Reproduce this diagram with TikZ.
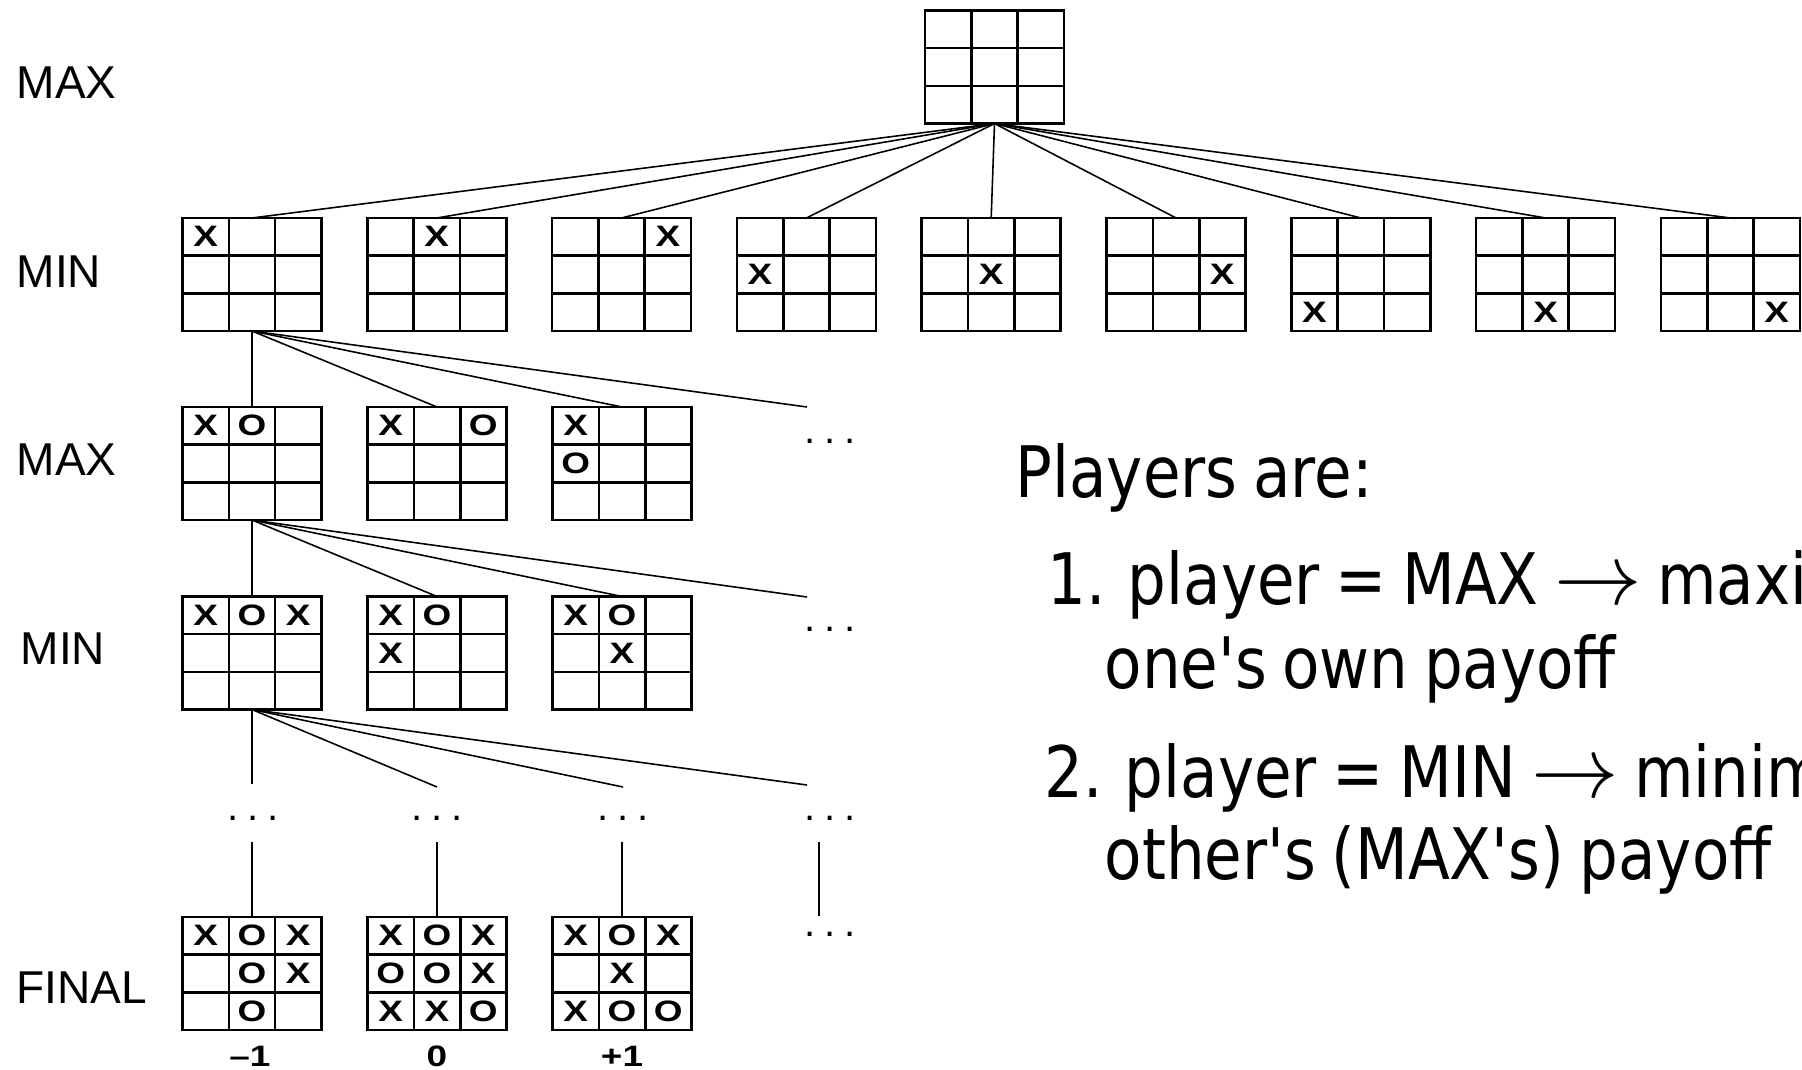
\documentclass[tikz,border=0pt]{standalone}
\usepackage{fontspec}
\setmainfont{Liberation Sans}
\newfontfamily\notefont[FakeStretch=0.86, WordSpace=0.8]{DejaVu Sans}
\newfontfamily\piecefont[FakeStretch=1.25]{Liberation Sans Bold}
\usepackage{tikz}
\usetikzlibrary{calc}

\tikzset{
  board/.style={draw, line width=0.75pt, inner sep=0pt, outer sep=0pt,
    minimum width=1.39cm, minimum height=1.13cm},
  boardline/.style={line width=0.75pt},
  link/.style={line width=0.45pt},
  piece/.style={font=\piecefont\fontsize{8.4}{9}\selectfont, inner sep=0pt},
  rowlabel/.style={font=\fontsize{13.1}{15}\selectfont, anchor=base west, inner sep=0pt},
  score/.style={font=\piecefont\fontsize{8.4}{9}\selectfont, anchor=base, inner sep=0pt},
  note/.style={font=\notefont\fontsize{20.2}{24}\selectfont, anchor=base west, inner sep=0pt},
  etc/.style={font=\fontsize{11.4}{12}\selectfont, inner sep=0pt}
}

% empty 3x3 board as a node
\newcommand{\board}[3]{%
  \node[board] (#1) at (#2,#3) {};
  \foreach \f in {1,2} {
    \draw[boardline] ($(#1.north west)!\f/3!(#1.north east)$) -- ($(#1.south west)!\f/3!(#1.south east)$);
    \draw[boardline] ($(#1.north west)!\f/3!(#1.south west)$) -- ($(#1.north east)!\f/3!(#1.south east)$);
  }
}
% marks: symbol/column/row
\newcommand{\pieces}[2]{%
  \foreach \pc/\col/\row in {#2}
    \node[piece] at ($(#1.north west)+({(\col+0.5)*46.33},{(\row+0.5)*37.67})$) {\pc};
}
\newcommand{\moredots}{.\hspace{2.4pt}.\hspace{2.4pt}.}
\newcommand{\yields}{\scalebox{1.2}{$\rightarrow$}}

\begin{document}
\begin{tikzpicture}[x=0.01cm, y=-0.01cm]
  \clip (0,0) rectangle (1802,1069);

  % level labels
  \node[rowlabel] (l1) at (16,98) {MAX};
  \node[rowlabel] (l2) at (16,287) {MIN};
  \node[rowlabel] (l3) at (16,475) {MAX};
  \node[rowlabel] (l4) at (20,664) {MIN};
  \node[rowlabel] (l5) at (16,1003) {FINAL};

  % root and first moves
  \board{root}{994.5}{67}
  \foreach \k in {1,...,9} {
    \pgfmathsetmacro\xx{252+184.8*(\k-1)}
    \pgfmathtruncatemacro\cc{mod(\k-1,3)}
    \pgfmathtruncatemacro\rr{div(\k-1,3)}
    \board{m\k}{\xx}{274.5}
    \pieces{m\k}{X/\cc/\rr}
    \draw[link] (root.south) -- (m\k.north);
  }

  % second moves
  \board{a1}{252}{463.5}
  \board{a2}{437}{463.5}
  \board{a3}{622}{463.5}
  \pieces{a1}{X/0/0, O/1/0}
  \pieces{a2}{X/0/0, O/2/0}
  \pieces{a3}{X/0/0, O/0/1}
  \coordinate (d1) at (807,407);
  \node[etc] (q1) at (830,441) {\moredots};
  \foreach \t in {a1,a2,a3,d1}
    \draw[link] (m1.south) -- (\t.north);

  % third moves
  \board{b1}{252}{653}
  \board{b2}{437}{653}
  \board{b3}{622}{653}
  \pieces{b1}{X/0/0, O/1/0, X/2/0}
  \pieces{b2}{X/0/0, O/1/0, X/0/1}
  \pieces{b3}{X/0/0, O/1/0, X/1/1}
  \coordinate (d2) at (807,597);
  \node[etc] (q2) at (830,629) {\moredots};
  \foreach \t in {b1,b2,b3,d2}
    \draw[link] (a1.south) -- (\t.north);

  % further moves
  \coordinate (e1) at (252,784);
  \coordinate (e2) at (437,787);
  \coordinate (e3) at (623,787);
  \coordinate (e4) at (807,785);
  \foreach \t in {e1,e2,e3,e4}
    \draw[link] (b1.south) -- (\t);
  \node[etc] (p1) at (253,818) {\moredots};
  \node[etc] (p2) at (437,818) {\moredots};
  \node[etc] (p3) at (623,818) {\moredots};
  \node[etc] (q3) at (830,818) {\moredots};

  % final positions
  \board{z1}{252}{973.5}
  \board{z2}{437}{973.5}
  \board{z3}{622}{973.5}
  \pieces{z1}{X/0/0, O/1/0, X/2/0, O/1/1, X/2/1, O/1/2}
  \pieces{z2}{X/0/0, O/1/0, X/2/0, O/0/1, O/1/1, X/2/1, X/0/2, X/1/2, O/2/2}
  \pieces{z3}{X/0/0, O/1/0, X/2/0, X/1/1, X/0/2, O/1/2, O/2/2}
  \coordinate (f1) at (252,842);
  \coordinate (f2) at (437,842);
  \coordinate (f3) at (622,842);
  \coordinate (f4) at (819,842);
  \coordinate (g4) at (819,916);
  \draw[link] (f1) -- (z1.north);
  \draw[link] (f2) -- (z2.north);
  \draw[link] (f3) -- (z3.north);
  \draw[link] (f4) -- (g4);
  \node[etc] (q4) at (830,934) {\moredots};

  \node[score] (s1) at ($(z1.south)+(-2,36)$) {\textendash1};
  \node[score] (s2) at ($(z2.south)+(0,36)$) {0};
  \node[score] (s3) at ($(z3.south)+(0,36)$) {+1};

  % explanation
  \node[note] (t0) at (1015,497) {Players are:};
  \node[note] (t1) at (1047,604) {1. player = MAX \yields\ maximizes};
  \node[note] (t2) at (1104,688) {one's own payoff};
  \node[note] (t3) at (1044,797) {2. player = MIN \yields\ minimizes};
  \node[note] (t4) at (1104,879) {other's (MAX's) payoff};
\end{tikzpicture}
\end{document}
